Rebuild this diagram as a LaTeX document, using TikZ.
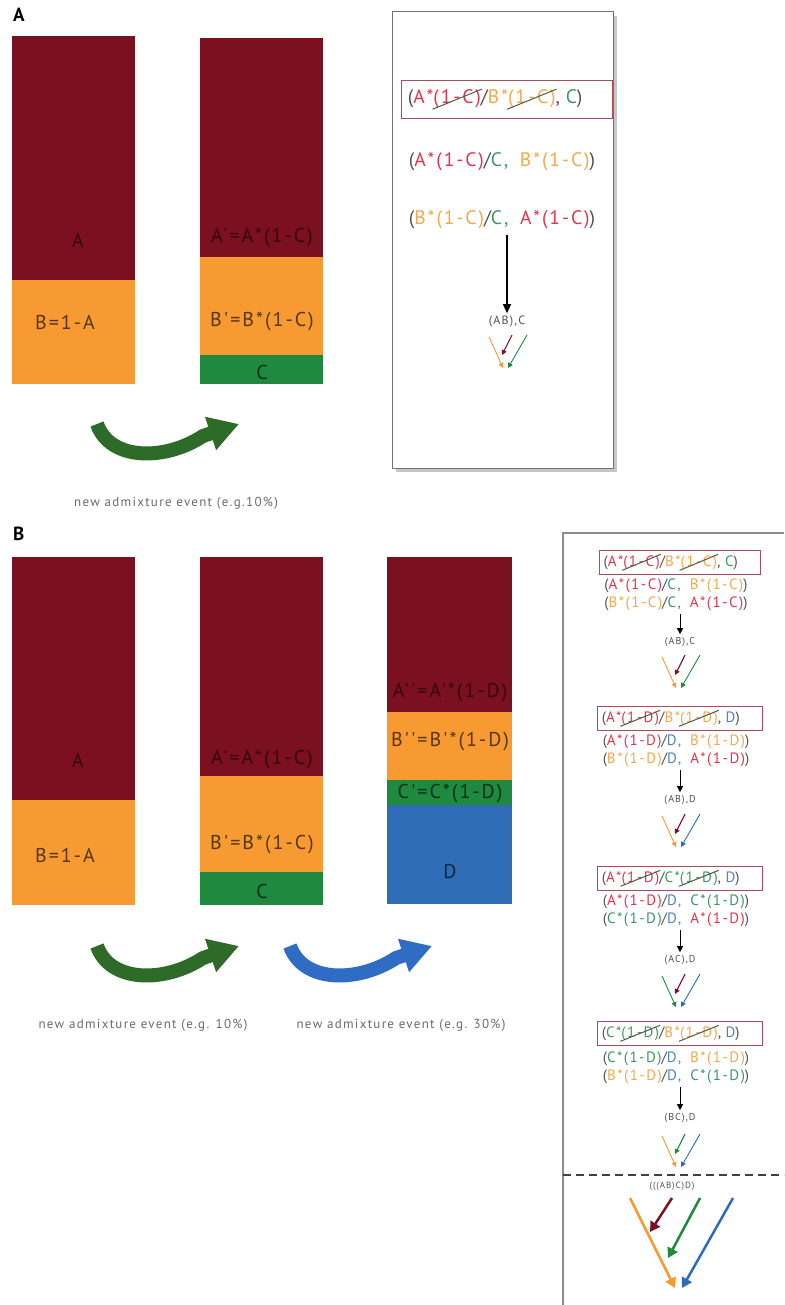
\documentclass[tikz,border=0pt]{standalone}
\usepackage{fontspec}
\setmainfont{PT Sans}
\newfontfamily\lsf[LetterSpace=10]{PT Sans}
\usetikzlibrary{arrows.meta,fit,calc}
\definecolor{cdr}{HTML}{7A1020}
\definecolor{cor}{HTML}{F79A32}
\definecolor{cgr}{HTML}{1F8A3F}
\definecolor{cbl}{HTML}{2E6DB6}
\definecolor{agr}{HTML}{2E6A28}
\definecolor{abl}{HTML}{2F6CC4}
\definecolor{tred}{HTML}{E3344B}
\definecolor{tor}{HTML}{F4A84C}
\definecolor{tgr}{HTML}{3A9862}
\definecolor{tbl}{HTML}{5282C2}
\definecolor{tgy}{HTML}{505050}
\definecolor{strkc}{HTML}{4B5E45}
\definecolor{boxr}{HTML}{B04A58}
\definecolor{lgy}{HTML}{6A6A6A}
\newcommand\fs[1]{\fontsize{#1}{#1}\selectfont}
% strike line: name, x, y, X, Xcol, Z, Zcol, Y, Ycol
\newcommand\stline[9]{%
 \node[seg,anchor=base] (#1) at (#2,#3) {\phantom{(#4*(1-#8)/#6*(1-#8),\kern0.3em#8)}};
 \node[seg,text=tgy] (#1a) at (#1.base west) {(};
 \node[seg,text=#5] (#1b) at (#1a.base east) {#4*};
 \node[seg,text=#5] (#1c) at (#1b.base east) {(1-#8)};
 \node[seg,text=tgy] (#1d) at (#1c.base east) {/};
 \node[seg,text=#7] (#1e) at (#1d.base east) {#6*};
 \node[seg,text=#7] (#1f) at (#1e.base east) {(1-#8)};
 \node[seg,text=tgy] (#1g) at (#1f.base east) {,\kern0.3em};
 \node[seg,text=#9] (#1h) at (#1g.base east) {#8};
 \node[seg,text=tgy] (#1i) at (#1h.base east) {)};
 \draw[stk] ($(#1c.south west)+(-1,1)$) -- ($(#1c.north east)+(1,-1)$);
 \draw[stk] ($(#1f.south west)+(-1,1)$) -- ($(#1f.north east)+(1,-1)$);
}
% plain line: (X*(1-W)/Y,  Z*(1-W))
\newcommand\pl[7]{\textcolor{tgy}{(}\textcolor{#2}{#1*(1-#7)}\textcolor{tgy}{/}\textcolor{#4}{#3,}\hspace{0.6em}\textcolor{#6}{#5*(1-#7)}\textcolor{tgy}{)}}
\newcommand\bendarrow[3]{%
 \begin{scope}[shift={(#2,#3)}]
 \draw[#1, line width=14pt, line join=round, -{Triangle[length=30pt,width=33pt]}] (97,424) .. controls (110,461) and (165,461) .. (203,436) -- (239,424);
 \end{scope}}
\tikzset{
 seg/.style={inner sep=0pt, outer sep=0pt, anchor=base west},
 barlab/.style={font=\lsf\fs{20}, inner sep=0pt},
 evlab/.style={font=\lsf\fs{13}, text=lgy, inner sep=0pt},
 stk/.style={strkc, line width=1pt},
 blk/.style={black, line width=1.2pt, -{Triangle[length=9pt,width=8pt]}},
 rbox/.style={draw=boxr, line width=1pt},
 tlab/.style={text=tgy, inner sep=1pt},
 pics/mtree/.style n args={3}{code={
  \draw[line width=0.9pt, #1, -{Triangle[length=5pt,width=5pt]}] (-16,-31) -- (-2,0);
  \draw[line width=0.9pt, #3, -{Triangle[length=5pt,width=5pt]}] (22,-33) -- (3,0);
  \draw[line width=1.1pt, #2, -{Triangle[length=5pt,width=5pt]}] (7,-33) -- (-3,-13);
 }}
}
\begin{document}
\begin{tikzpicture}[x=1pt,y=-1pt]
\useasboundingbox (0,0) rectangle (784,1305);
\fill[white] (0,0) rectangle (784,1305);
% ---------- Panel A ----------
\node[font=\bfseries\fs{19}, inner sep=0pt, anchor=north west] (lA) at (13,8) {A};
\fill[cdr] (12,36) rectangle (135,280);
\fill[cor] (12,280) rectangle (135,384);
\node[barlab, text=cdr!45!black] (a1A) at (78,240) {A};
\node[barlab, text=cor!35!black] (a1B) at (65,322) {B=1-A};
\fill[cdr] (200,38) rectangle (323,257);
\fill[cor] (200,257) rectangle (323,355);
\fill[cgr] (200,355) rectangle (323,384);
\node[barlab, text=cdr!45!black] (a2A) at (262,238) {A'=A*(1-C)};
\node[barlab, text=cor!35!black] (a2B) at (262,322) {B'=B*(1-C)};
\node[barlab, text=cgr!35!black] (a2C) at (262,372) {C};
\bendarrow{agr}{0}{0}
\node[evlab] (evA) at (176,503) {new admixture event (e.g.10\%)};
% right box A
\fill[black!22] (396,16) rectangle (617,472);
\filldraw[fill=white, draw=black!55, line width=1pt] (392,12) rectangle (613,468);
\begin{scope}[font=\lsf\fs{19.5}]
\stline{Aa}{502}{104}{A}{tred}{B}{tor}{C}{tgr}
\draw[rbox] ($(Aa.north west)+(-6,-10)$) rectangle ($(Aa.south east)+(16,10)$);
\node[anchor=base, inner sep=0pt] (Ab) at (502,167) {\pl{A}{tred}{C}{tgr}{B}{tor}{C}};
\node[anchor=base, inner sep=0pt] (Ac) at (502,225) {\pl{B}{tor}{C}{tgr}{A}{tred}{C}};
\end{scope}
\node[tlab, font=\lsf\fs{12}] (Alab) at (507,322) {(AB),C};
\draw[blk, shorten <=6pt, shorten >=2pt] (Alab.north |- Ac.south) -- (Alab.north);
\pic (At) at (505,368) {mtree={cor}{cdr}{cgr}};
% ---------- Panel B ----------
\node[font=\bfseries\fs{19}, inner sep=0pt, anchor=north west] (lB) at (13,527) {B};
\fill[cdr] (12,557) rectangle (135,800);
\fill[cor] (12,800) rectangle (135,905);
\node[barlab, text=cdr!45!black] (b1A) at (78,760) {A};
\node[barlab, text=cor!35!black] (b1B) at (65,855) {B=1-A};
\fill[cdr] (200,557) rectangle (323,776);
\fill[cor] (200,776) rectangle (323,872);
\fill[cgr] (200,872) rectangle (323,905);
\node[barlab, text=cdr!45!black] (b2A) at (262,760) {A'=A*(1-C)};
\node[barlab, text=cor!35!black] (b2B) at (262,845) {B'=B*(1-C)};
\node[barlab, text=cgr!35!black] (b2C) at (262,891) {C};
\fill[cdr] (387,557) rectangle (512,712);
\fill[cor] (387,712) rectangle (512,780);
\fill[cgr] (387,780) rectangle (512,805);
\fill[cbl] (387,805) rectangle (512,904);
\node[barlab, text=cdr!45!black] (b3A) at (450,693) {A''=A'*(1-D)};
\node[barlab, text=cor!35!black] (b3B) at (450,742) {B''=B'*(1-D)};
\node[barlab, text=cgr!35!black] (b3C) at (450,794) {C'=C*(1-D)};
\node[barlab, text=cbl!35!black] (b3D) at (450,872) {D};
\bendarrow{agr}{0}{522}
\bendarrow{abl}{193}{522}
\node[evlab] (evB1) at (143,1025) {new admixture event (e.g. 10\%)};
\node[evlab] (evB2) at (401,1025) {new admixture event (e.g. 30\%)};
% right box B
\draw[black!45, line width=1.5pt] (563,1305) -- (563,533) -- (784,533);
\begin{scope}[font=\lsf\fs{15}]
\stline{Ba}{676}{566}{A}{tred}{B}{tor}{C}{tgr}
\draw[rbox] ($(Ba.north west)+(-4,-5)$) rectangle ($(Ba.south east)+(12,5)$);
\node[anchor=base, inner sep=0pt] (Bb) at (676,589) {\pl{A}{tred}{C}{tgr}{B}{tor}{C}};
\node[anchor=base, inner sep=0pt] (Bc) at (676,607) {\pl{B}{tor}{C}{tgr}{A}{tred}{C}};
\stline{Bd}{676}{722}{A}{tred}{B}{tor}{D}{tbl}
\draw[rbox] ($(Bd.north west)+(-4,-5)$) rectangle ($(Bd.south east)+(12,5)$);
\node[anchor=base, inner sep=0pt] (Be) at (676,745) {\pl{A}{tred}{D}{tbl}{B}{tor}{D}};
\node[anchor=base, inner sep=0pt] (Bf) at (676,763) {\pl{B}{tor}{D}{tbl}{A}{tred}{D}};
\stline{Bg}{676}{882}{A}{tred}{C}{tgr}{D}{tbl}
\draw[rbox] ($(Bg.north west)+(-4,-5)$) rectangle ($(Bg.south east)+(12,5)$);
\node[anchor=base, inner sep=0pt] (Bh) at (676,905) {\pl{A}{tred}{D}{tbl}{C}{tgr}{D}};
\node[anchor=base, inner sep=0pt] (Bi) at (676,923) {\pl{C}{tgr}{D}{tbl}{A}{tred}{D}};
\stline{Bj}{676}{1037}{C}{tgr}{B}{tor}{D}{tbl}
\draw[rbox] ($(Bj.north west)+(-4,-5)$) rectangle ($(Bj.south east)+(12,5)$);
\node[anchor=base, inner sep=0pt] (Bk) at (676,1062) {\pl{C}{tgr}{D}{tbl}{B}{tor}{D}};
\node[anchor=base, inner sep=0pt] (Bl) at (676,1080) {\pl{B}{tor}{D}{tbl}{C}{tgr}{D}};
\end{scope}
\begin{scope}[font=\lsf\fs{10}]
\node[tlab] (L1) at (680,642) {(AB),C};
\node[tlab] (L2) at (680,800) {(AB),D};
\node[tlab] (L3) at (680,960) {(AC),D};
\node[tlab] (L4) at (680,1118) {(BC),D};
\end{scope}
\tikzset{sblk/.style={black, line width=1pt, -{Triangle[length=6pt,width=6pt]}, shorten <=3pt, shorten >=2pt}}
\draw[sblk] (L1.north |- Bc.south) -- (L1.north);
\draw[sblk] (L2.north |- Bf.south) -- (L2.north);
\draw[sblk] (L3.north |- Bi.south) -- (L3.north);
\draw[sblk] (L4.north |- Bl.south) -- (L4.north);
\pic (T1) at (678,688) {mtree={cor}{cdr}{cgr}};
\pic (T2) at (678,847) {mtree={cor}{cdr}{cbl}};
\pic (T3) at (678,1007) {mtree={cgr}{cdr}{cbl}};
\pic (T4) at (678,1167) {mtree={cor}{cgr}{cbl}};
\draw[black!75, line width=1.2pt, dash pattern=on 8pt off 5pt] (563,1175) -- (784,1175);
\node[tlab, font=\lsf\fs{9}] (L5) at (672,1186) {(((AB)C)D)};
\draw[cor, line width=2.5pt, -{Triangle[length=10pt,width=11pt]}] (630,1198) -- (675,1288);
\draw[cdr, line width=2.5pt, -{Triangle[length=10pt,width=11pt]}] (672,1198) -- (650,1232);
\draw[cgr, line width=2.5pt, -{Triangle[length=10pt,width=11pt]}] (700,1198) -- (668,1258);
\draw[cbl, line width=2.5pt, -{Triangle[length=10pt,width=11pt]}] (733,1198) -- (682,1288);
\end{tikzpicture}
\end{document}
